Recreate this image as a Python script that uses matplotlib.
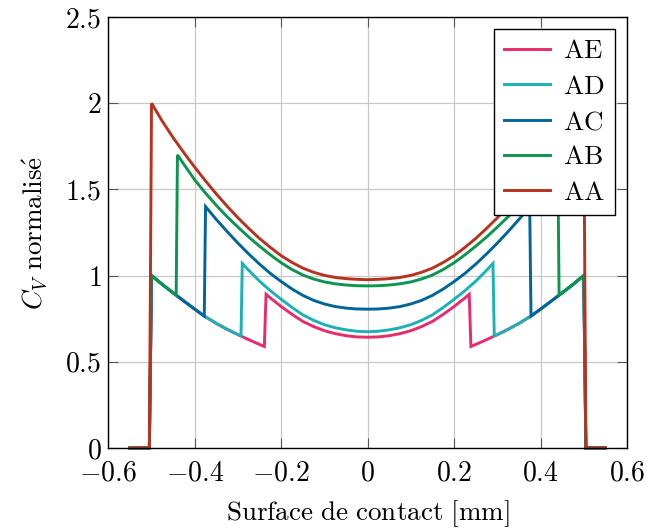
import numpy as np
import matplotlib
matplotlib.use("Agg")
import matplotlib.pyplot as plt
from matplotlib.ticker import FuncFormatter

plt.rcParams['font.family'] = 'serif'
plt.rcParams['font.serif'] = ['cmr10']
plt.rcParams['mathtext.fontset'] = 'cm'
plt.rcParams['axes.formatter.use_mathtext'] = True

# left half of each curve (x <= 0), the chart is symmetric about x = 0
zero_x = [-0.55, -0.505]
zero_y = [0.0, 0.0]

# shared lower branch, starting at the contact edge
env_x = [-0.5, -0.475, -0.443, -0.425, -0.4, -0.378, -0.35, -0.325, -0.3,
         -0.293, -0.275, -0.25, -0.239]
env_y = [1.0, 0.948, 0.886, 0.852, 0.805, 0.765, 0.722, 0.688, 0.657,
         0.649, 0.628, 0.60, 0.588]

aa_x = [-0.5, -0.475, -0.45, -0.425, -0.4, -0.375, -0.35, -0.325, -0.3, -0.275, -0.25,
        -0.225, -0.2, -0.175, -0.15, -0.125, -0.1, -0.075, -0.05, -0.025, 0.0]
aa_y = [2.0, 1.895, 1.80, 1.712, 1.628, 1.549, 1.473, 1.402, 1.335, 1.273, 1.215,
        1.163, 1.115, 1.076, 1.043, 1.019, 1.001, 0.989, 0.982, 0.978, 0.976]

ab_x = [-0.44, -0.425, -0.4, -0.375, -0.35, -0.325, -0.3, -0.275, -0.25,
        -0.225, -0.2, -0.175, -0.15, -0.125, -0.1, -0.075, -0.05, -0.025, 0.0]
ab_y = [1.70, 1.645, 1.555, 1.478, 1.407, 1.341, 1.281, 1.223, 1.17,
        1.12, 1.074, 1.035, 1.003, 0.98, 0.963, 0.952, 0.945, 0.941, 0.940]

ac_x = [-0.375, -0.35, -0.325, -0.3, -0.275, -0.25, -0.225, -0.2, -0.175,
        -0.15, -0.125, -0.1, -0.075, -0.05, -0.025, 0.0]
ac_y = [1.40, 1.325, 1.255, 1.188, 1.125, 1.066, 1.012, 0.965, 0.922,
        0.885, 0.856, 0.835, 0.82, 0.811, 0.806, 0.805]

ad_x = [-0.29, -0.275, -0.25, -0.225, -0.2, -0.175, -0.15, -0.125, -0.1,
        -0.075, -0.05, -0.025, 0.0]
ad_y = [1.07, 1.03, 0.967, 0.912, 0.862, 0.815, 0.772, 0.74, 0.715,
        0.697, 0.685, 0.677, 0.674]

ae_x = [-0.235, -0.225, -0.2, -0.175, -0.15, -0.125, -0.1, -0.075, -0.05, -0.025, 0.0]
ae_y = [0.891, 0.87, 0.82, 0.775, 0.734, 0.704, 0.68, 0.663, 0.651, 0.644, 0.642]

# number of lower-branch points each curve follows before its jump
env_n = {'AE': 13, 'AD': 10, 'AC': 6, 'AB': 3, 'AA': 0}

labels = ['AE', 'AD', 'AC', 'AB', 'AA']
colors = ['#ea2a6e', '#19b2b8', '#006599', '#0b9650', '#b8331f']
upper = {'AE': (ae_x, ae_y), 'AD': (ad_x, ad_y), 'AC': (ac_x, ac_y),
         'AB': (ab_x, ab_y), 'AA': (aa_x, aa_y)}


def full_curve(name):
    ux, uy = upper[name]
    n = env_n[name]
    lx = np.array(zero_x + env_x[:n] + ux)
    ly = np.array(zero_y + env_y[:n] + uy)
    x = np.concatenate([lx, -lx[::-1][1:]])
    y = np.concatenate([ly, ly[::-1][1:]])
    return x, y


fig = plt.figure(figsize=(6.47, 5.30), dpi=100)
ax = fig.add_axes([0.1674, 0.1549, 0.8016, 0.8130])

for name, c in zip(labels, colors):
    x, y = full_curve(name)
    ax.plot(x, y, color=c, lw=2.1, label=r'$\mathrm{%s}$' % name,
            clip_on=False, solid_joinstyle='miter')

ax.set_xlim(-0.6, 0.6)
ax.set_ylim(0, 2.5)
ax.set_xticks(np.arange(-0.6, 0.61, 0.2))
ax.set_yticks(np.arange(0, 2.51, 0.5))

fmt = FuncFormatter(lambda v, p: r'$%g$' % round(v, 2) if abs(v) > 1e-9 else r'$0$')
ax.xaxis.set_major_formatter(fmt)
ax.yaxis.set_major_formatter(fmt)

ax.grid(True, color='#c8c8c8', lw=0.9)
ax.set_axisbelow(True)
ax.tick_params(direction='in', length=7, width=0.8, color='#555555',
               top=True, right=True, labelsize=20)
ax.tick_params(axis='x', pad=9)
ax.tick_params(axis='y', pad=5)
for s in ax.spines.values():
    s.set_linewidth(1.0)

ax.set_xlabel(r'$\mathrm{Surface\ de\ contact\ [mm]}$', fontsize=19.5, labelpad=8)
ax.set_ylabel(r'$C_V\ \mathrm{normalis\acute{e}}$', fontsize=19.5, labelpad=12)

leg = ax.legend(loc='upper right', fontsize=19.5, frameon=True, fancybox=False,
                edgecolor='black', framealpha=1, handlelength=1.7,
                borderaxespad=0.45, labelspacing=0.42, handletextpad=0.45,
                borderpad=0.38)
leg.get_frame().set_linewidth(1.0)

fig.savefig('out.png', dpi=100)
